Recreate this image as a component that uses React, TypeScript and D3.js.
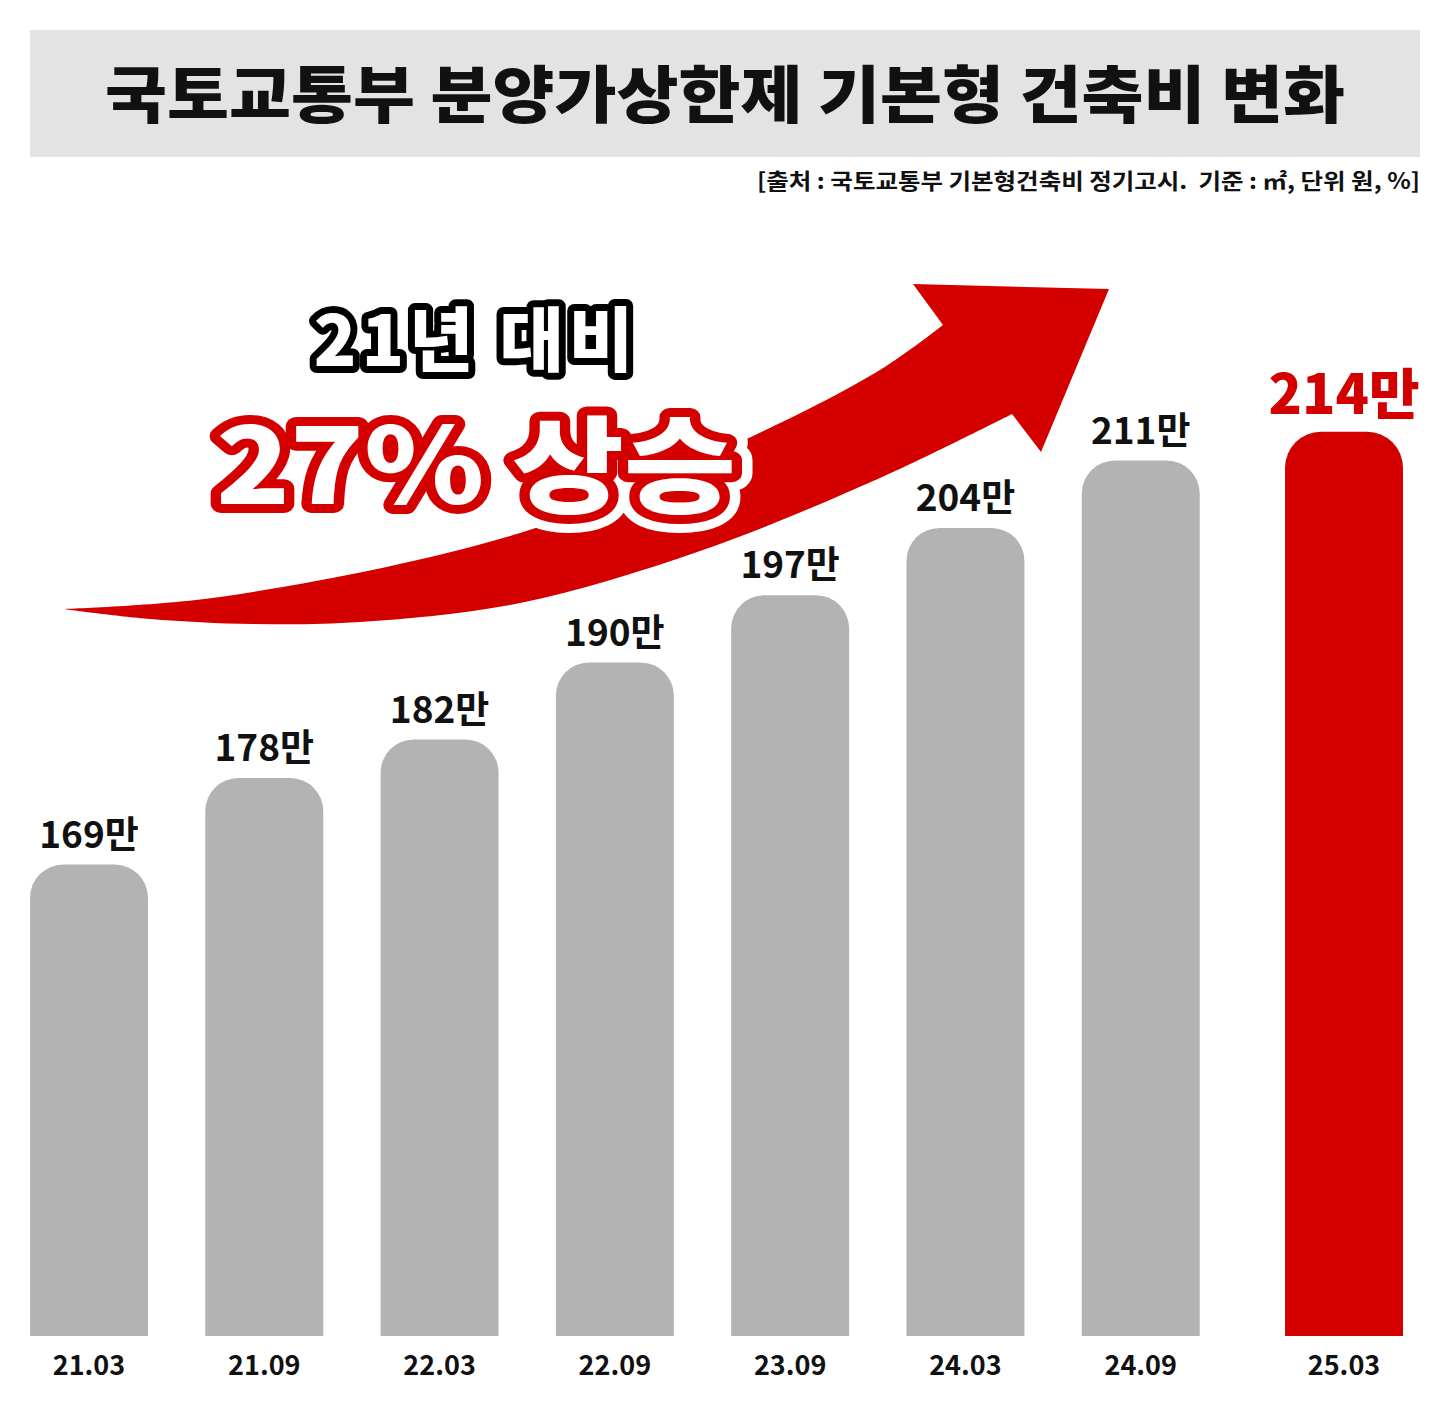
import React from 'react';
import * as d3 from 'd3';

// ---- data ----
const categories = ['21.03', '21.09', '22.03', '22.09', '23.09', '24.03', '24.09', '25.03'];
const values = [169, 178, 182, 190, 197, 204, 211, 214];
const unitSuffix = '만';
const highlightCategory = '25.03';
const titleText = '국토교통부 분양가상한제 기본형 건축비 변화';
const sourceText = '[출처 : 국토교통부 기본형건축비 정기고시.  기준 : ㎡, 단위 원, %]';
const headline1 = '21년 대비';
const headline2 = '27% 상승';

// ---- layout / style ----
const W = 1451;
const H = 1409;
const FONT = "'Noto Sans CJK KR', 'Noto Sans', sans-serif";
const RED = '#d40000';
const GRAY = '#b3b3b3';
const BASE_Y = 1336;

// decorative arrow outline
const arrowUpper: [number, number][] = [
  [63, 609], [220, 597], [520, 533], [740, 442], [880, 370], [943, 325],
];
const arrowHead: [number, number][] = [
  [913, 284], [1109, 289], [1041, 452], [1012, 414],
];
const arrowLower: [number, number][] = [
  [1012, 414], [880, 478], [700, 551], [520, 603], [360, 622], [253, 624], [150, 619], [63, 609],
];

function roundedTopBar(x: number, y: number, w: number, h: number, r: number) {
  const rr = Math.min(r, w / 2, h);
  return `M${x},${y + h}V${y + rr}A${rr},${rr} 0 0 1 ${x + rr},${y}H${x + w - rr}A${rr},${rr} 0 0 1 ${x + w},${y + rr}V${y + h}Z`;
}

export default function App() {
  const xBand = d3
    .scaleBand<string>()
    .domain(categories)
    .range([30, 1375])
    .paddingInner(0.327)
    .paddingOuter(0);
  const highlightGap = 28;
  const xPos = (c: string) => (xBand(c) as number) + (c === highlightCategory ? highlightGap : 0);
  const bw = xBand.bandwidth();

  const y = d3.scaleLinear().domain([120, 220]).range([BASE_Y, 374]);

  const line = d3.line().curve(d3.curveCatmullRom.alpha(0.5));
  const upperPath = line(arrowUpper) as string;
  const lowerPath = line(arrowLower) as string;
  const arrowD =
    upperPath +
    arrowHead.map((p) => `L${p[0]},${p[1]}`).join('') +
    lowerPath.replace(/^M[^A-Za-z]*/, '');

  return (
    <svg
      width={W}
      height={H}
      viewBox={`0 0 ${W} ${H}`}
      style={{ position: 'absolute', left: 0, top: 0, background: '#fff' }}
      fontFamily={FONT}
    >
      <rect x={0} y={0} width={W} height={H} fill="#ffffff" />
      {/* title box */}
      <rect x={30} y={30} width={1390} height={127} fill="#e3e3e3" />
      <text
        x={725}
        y={118}
        textAnchor="middle"
        fontSize={62}
        fontWeight={900}
        fill="#111"
        textLength={1240}
        lengthAdjust="spacingAndGlyphs"
      >
        {titleText}
      </text>
      <text
        x={1420}
        y={189}
        textAnchor="end"
        fontSize={22}
        fontWeight={700}
        fill="#111"
        textLength={663}
        lengthAdjust="spacingAndGlyphs"
        style={{ whiteSpace: 'pre' }}
      >
        {sourceText}
      </text>

      {/* arrow */}
      <path d={arrowD} fill={RED} />

      {/* bars */}
      {categories.map((c, i) => {
        const top = y(values[i]);
        const hl = c === highlightCategory;
        return (
          <path
            key={c}
            d={roundedTopBar(xPos(c), top, bw, BASE_Y - top, hl ? 36 : 33)}
            fill={hl ? RED : GRAY}
          />
        );
      })}

      {/* value labels */}
      {categories.map((c, i) => {
        const top = y(values[i]);
        const hl = c === highlightCategory;
        return (
          <text
            key={'v' + c}
            x={xPos(c) + bw / 2}
            y={top - (hl ? 18 : 17)}
            textAnchor="middle"
            fontSize={hl ? 55 : 37}
            fontWeight={hl ? 900 : 700}
            fill={hl ? RED : '#111'}
          >
            {values[i] + unitSuffix}
          </text>
        );
      })}

      {/* category labels */}
      {categories.map((c) => (
        <text
          key={'c' + c}
          x={xPos(c) + bw / 2}
          y={1375}
          textAnchor="middle"
          fontSize={27}
          fontWeight={700}
          fill="#111"
        >
          {c}
        </text>
      ))}

      {/* headline 1 */}
      <text
        x={476}
        y={366}
        textAnchor="middle"
        fontSize={70}
        fontWeight={800}
        fill="#fff"
        stroke="#000"
        strokeWidth={14}
        strokeLinejoin="round"
        paintOrder="stroke"
        letterSpacing={5}
        style={{ whiteSpace: 'pre' }}
      >
        {headline1}
      </text>

      {/* headline 2 with white halo */}
      <text
        x={476}
        y={504}
        textAnchor="middle"
        fontSize={105}
        fontWeight={800}
        fill="#fff"
        stroke="#fff"
        strokeWidth={36}
        strokeLinejoin="round"
        paintOrder="stroke"
        textLength={520}
        lengthAdjust="spacingAndGlyphs"
      >
        {headline2}
      </text>
      <text
        x={476}
        y={504}
        textAnchor="middle"
        fontSize={105}
        fontWeight={800}
        fill="#fff"
        stroke={RED}
        strokeWidth={18}
        strokeLinejoin="round"
        paintOrder="stroke"
        textLength={520}
        lengthAdjust="spacingAndGlyphs"
      >
        {headline2}
      </text>
    </svg>
  );
}
